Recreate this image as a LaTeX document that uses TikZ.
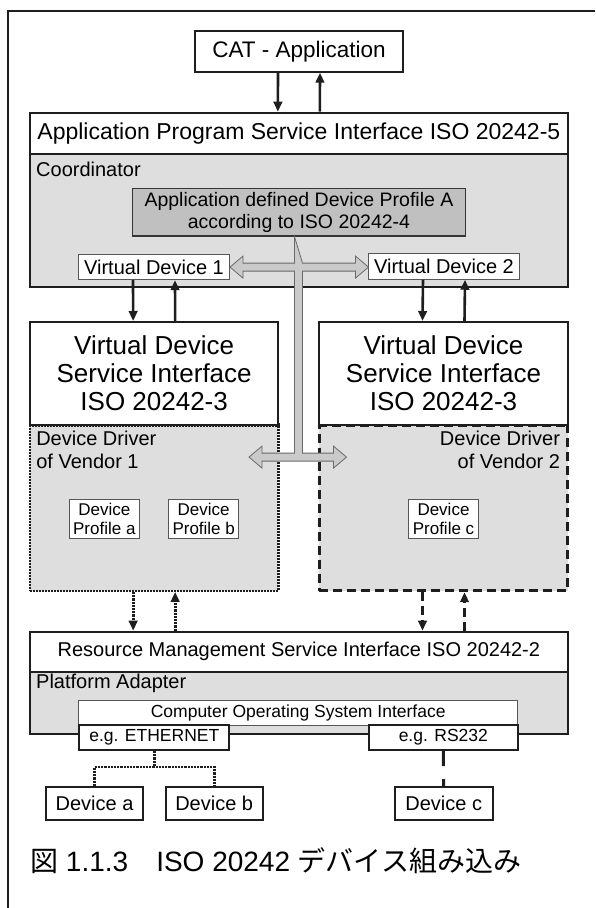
\documentclass[tikz,border=0pt]{standalone}
\usepackage{fontspec}
\setmainfont{Liberation Sans}
\newfontfamily\jpfont{Noto Sans CJK JP}
\usetikzlibrary{arrows.meta}

\definecolor{inkblack}{RGB}{30,30,30}
\definecolor{areagray}{RGB}{222,222,222}
\definecolor{profgray}{RGB}{192,192,192}
\definecolor{busgray}{RGB}{202,202,202}
\definecolor{busline}{RGB}{105,105,105}

\begin{document}
\begin{tikzpicture}[x=1pt, y=-1pt,
    box/.style={draw=inkblack, line width=2pt, fill=white, inner sep=0pt, align=center},
    thinbox/.style={draw=inkblack!75, line width=0.9pt, fill=white, inner sep=0pt, align=center},
    area/.style={draw=inkblack, line width=2pt, fill=areagray, inner sep=0pt},
    lbl/.style={inner sep=0pt, font=\fontsize{20}{23}\selectfont},
    arr/.style={draw=inkblack, line width=2.6pt, -{Triangle[length=10pt,width=8.5pt]}},
    dotline/.style={line width=2.8pt, dash pattern=on 2.2pt off 1pt},
    dashline/.style={line width=3pt, dash pattern=on 9pt off 5pt}]
  \useasboundingbox (0,0) rectangle (595,908);
  \draw[line width=2pt, inkblack] (8.3,908) -- (8.3,10.7) -- (595,10.7);

  % application side
  \node[box, minimum width=208pt, minimum height=41pt, font=\fontsize{22.5}{26}\selectfont] (cat) at (299,51.2) {CAT - Application};
  \node[box, minimum width=537.7pt, minimum height=41.3pt, font=\fontsize{23}{26}\selectfont] (api) at (298.85,133.35) {Application Program Service Interface ISO 20242-5};
  \node[area, minimum width=537.7pt, minimum height=133pt] (coord) at (298.85,220.5) {};
  \node[lbl, anchor=base west] (coordlbl) at ([xshift=7pt, yshift=-23pt]coord.north west) {Coordinator};
  \node[box, draw=inkblack!90, line width=1.2pt, fill=profgray, minimum width=332.6pt, minimum height=47.3pt, font=\fontsize{19.5}{22.7}\selectfont] (appprof) at (299,212.35) {Application defined Device Profile A\\according to ISO 20242-4};
  \node[thinbox, minimum width=150.6pt, minimum height=25.4pt, font=\fontsize{20}{23}\selectfont] (vd1) at (154,267) {Virtual Device 1};
  \node[thinbox, minimum width=150.6pt, minimum height=25.4pt, font=\fontsize{20}{23}\selectfont] (vd2) at (444,266.6) {Virtual Device 2};

  % vendor columns
  \node[area, line width=2.4pt, dash pattern=on 2pt off 1pt, minimum width=248.3pt, minimum height=166.2pt] (drv1) at (154.15,507.6) {};
  \node[area, dashline, minimum width=248.4pt, minimum height=166.2pt] (drv2) at (443.5,507.6) {};
  \node[box, minimum width=248.3pt, minimum height=102.5pt, font=\fontsize{26}{28.3}\selectfont] (vdsi1) at (154.15,373.25) {Virtual Device\\Service Interface\\ISO 20242-3};
  \node[box, minimum width=248.4pt, minimum height=102.5pt, font=\fontsize{26}{28.3}\selectfont] (vdsi2) at (443.5,373.25) {Virtual Device\\Service Interface\\ISO 20242-3};
  \draw[line width=2.4pt, dash pattern=on 2pt off 1pt, inkblack] (vdsi1.south west) -- (vdsi1.south east);
  \draw[dashline, inkblack] (vdsi2.south west) -- (vdsi2.south east);
  \node[lbl, anchor=north west, align=left] (drv1lbl) at ([xshift=7.3pt, yshift=-8pt]drv1.north west) {Device Driver\\of Vendor 1};
  \node[lbl, anchor=north east, align=right] (drv2lbl) at ([xshift=-9pt, yshift=-8pt]drv2.north east) {Device Driver\\of Vendor 2};
  \node[thinbox, minimum width=70pt, minimum height=38.6pt, font=\fontsize{17}{18.3}\selectfont] (profa) at (104.3,519) {Device\\Profile a};
  \node[thinbox, minimum width=70pt, minimum height=38.6pt, font=\fontsize{17}{18.3}\selectfont] (profb) at (203.7,519) {Device\\Profile b};
  \node[thinbox, minimum width=70.4pt, minimum height=38.6pt, font=\fontsize{17}{18.3}\selectfont] (profc) at (443.5,519) {Device\\Profile c};

  % profile bus
  \filldraw[fill=busgray, draw=busline, line width=0.8pt] ([xshift=-4.5pt]appprof.south)
    -- ++(0,26.5) -- ++(-51.5,0) -- ++(0,-7) -- ++(-13,11) -- ++(13,11) -- ++(0,-7) -- ++(51.5,0)
    -- ++(0,182) -- ++(-32.5,0) -- ++(0,-7) -- ++(-13,11) -- ++(13,11) -- ++(0,-7) -- ++(71.5,0)
    -- ++(0,7) -- ++(13,-11) -- ++(-13,-11) -- ++(0,7) -- ++(-31,0)
    -- ++(0,-182) -- ++(53,0) -- ++(0,7) -- ++(13,-11) -- ++(-13,-11) -- ++(0,7) -- ++(-53,0)
    -- cycle;

  % platform side
  \node[box, minimum width=537.7pt, minimum height=40pt, font=\fontsize{20}{23}\selectfont] (rmsi) at (298.85,651.7) {Resource Management Service Interface ISO 20242-2};
  \node[area, minimum width=537.7pt, minimum height=62.6pt] (platf) at (298.85,703) {};
  \node[lbl, anchor=base west] (platflbl) at ([xshift=7pt, yshift=-18pt]platf.north west) {Platform Adapter};
  \node[thinbox, minimum width=439pt, minimum height=24.7pt, font=\fontsize{17.5}{20}\selectfont] (cosi) at (298.2,712.65) {Computer Operating System Interface};
  \node[box, minimum width=150pt, minimum height=25pt, font=\fontsize{17.5}{20}\selectfont] (eth) at (154.3,737.5) {e.g. ETHERNET};
  \node[box, minimum width=149.3pt, minimum height=25pt, font=\fontsize{17.5}{20}\selectfont] (rs) at (443.35,737.5) {e.g. RS232};
  \node[box, minimum width=97.6pt, minimum height=32.7pt, font=\fontsize{20}{23}\selectfont] (deva) at (94.5,803.35) {Device a};
  \node[box, minimum width=97pt, minimum height=32.7pt, font=\fontsize{20}{23}\selectfont] (devb) at (214.2,803.35) {Device b};
  \node[box, minimum width=98pt, minimum height=32.7pt, font=\fontsize{20}{23}\selectfont] (devc) at (443.7,803.35) {Device c};

  % calls
  \draw[arr] ([xshift=-21pt]cat.south) -- ([xshift=-21pt]api.north);
  \draw[arr] ([xshift=21pt]api.north) -- ([xshift=21pt]cat.south);
  \draw[arr] ([xshift=-21pt]vd1.south) -- ([xshift=-21pt]vdsi1.north);
  \draw[arr] ([xshift=21pt]vdsi1.north) -- ([xshift=21pt]vd1.south);
  \draw[arr] ([xshift=-21pt]vd2.south) -- ([xshift=-21pt]vdsi2.north);
  \draw[arr] ([xshift=21pt]vdsi2.north) -- ([xshift=21pt]vd2.south);
  \draw[arr, dotline] ([xshift=-21pt]drv1.south) coordinate (d1dn) -- (d1dn |- rmsi.north);
  \draw[arr, dotline] ([xshift=21pt]drv1.south) coordinate (d1up) (d1up |- rmsi.north) -- (d1up);
  \draw[arr, dashline] ([xshift=-21pt]drv2.south) coordinate (d2dn) -- (d2dn |- rmsi.north);
  \draw[arr, dashline] ([xshift=21pt]drv2.south) coordinate (d2up) (d2up |- rmsi.north) -- (d2up);

  % device links
  \draw[dotline, inkblack] (eth.south) -- ++(0,16) coordinate (ethj);
  \draw[dotline, inkblack] (deva.north) |- (ethj) -| (devb.north);
  \draw[inkblack, line width=3pt, dash pattern=on 15pt off 13pt] (rs.south) -- (devc.north);

  \node[anchor=base west, inner sep=0pt, font=\fontsize{28}{30}\selectfont] (caption) at (30,871)
    {{\jpfont 図} 1.1.3{\jpfont 　}ISO 20242 {\jpfont デバイス組み込み}};
\end{tikzpicture}
\end{document}
